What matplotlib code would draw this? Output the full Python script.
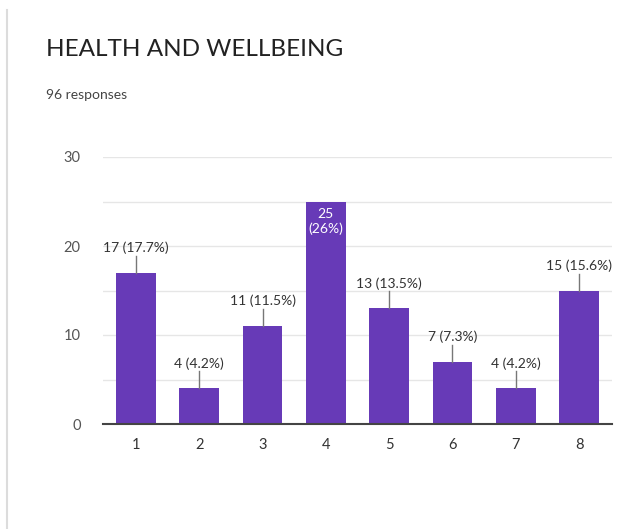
import matplotlib.pyplot as plt
from matplotlib.lines import Line2D

# data
categories = ["1", "2", "3", "4", "5", "6", "7", "8"]
counts = [17, 4, 11, 25, 13, 7, 4, 15]
percents = ["17.7%", "4.2%", "11.5%", "26%", "13.5%", "7.3%", "4.2%", "15.6%"]
title = "HEALTH AND WELLBEING"
subtitle = "96 responses"

bar_color = "#673ab7"
text_color = "#333333"

plt.rcParams['font.family'] = ['Lato', 'DejaVu Sans']

fig = plt.figure(figsize=(6.27, 5.29), dpi=100)
W, H = 627, 529

# faint card border on the left
fig.lines.append(Line2D([6.5 / W, 6.5 / W], [0, 1 - 10 / H], transform=fig.transFigure,
                        color="#dcdcdc", linewidth=1.5, zorder=-1))

fig.text(46 / W, 1 - 50 / H, title, fontsize=17.5, color="#222222", va="center", ha="left")
fig.text(46 / W, 1 - 95 / H, subtitle, fontsize=10, color="#444444", va="center", ha="left")

ax = fig.add_axes([103 / W, 1 - 424 / H, (612 - 103) / W, (424 - 157) / H])
ax.set_facecolor("none")

x = list(range(1, len(categories) + 1))
ax.bar(x, counts, width=0.63, color=bar_color, zorder=3)

ax.set_xlim(0.48, 8.52)
ax.set_ylim(0, 30)
ax.set_yticks([0, 10, 20, 30])
ax.set_yticks([5, 15, 25], minor=True)
ax.grid(axis="y", which="both", color="#e6e6e6", linewidth=1, zorder=0)
ax.set_xticks(x)
ax.set_xticklabels(categories)
ax.tick_params(axis="both", which="both", length=0, labelsize=10.5)
ax.tick_params(axis="x", colors=text_color, pad=10)
ax.tick_params(axis="y", colors="#555555", pad=16)
for s in ["top", "right", "left"]:
    ax.spines[s].set_visible(False)
ax.spines["bottom"].set_color("#444444")
ax.spines["bottom"].set_linewidth(1.5)
ax.spines["bottom"].set_zorder(4)

for xi, c, p in zip(x, counts, percents):
    if c >= 24:
        ax.text(xi, c - 0.7, f"{c}\n({p})", ha="center", va="top", color="white",
                fontsize=10, linespacing=1.25, zorder=5)
    else:
        ax.plot([xi, xi], [c, c + 1.9], color="#777777", linewidth=1, zorder=4)
        ax.text(xi, c + 2.1, f"{c} ({p})", ha="center", va="bottom", color=text_color,
                fontsize=10, zorder=5)

fig.savefig("out.png", dpi=100)
